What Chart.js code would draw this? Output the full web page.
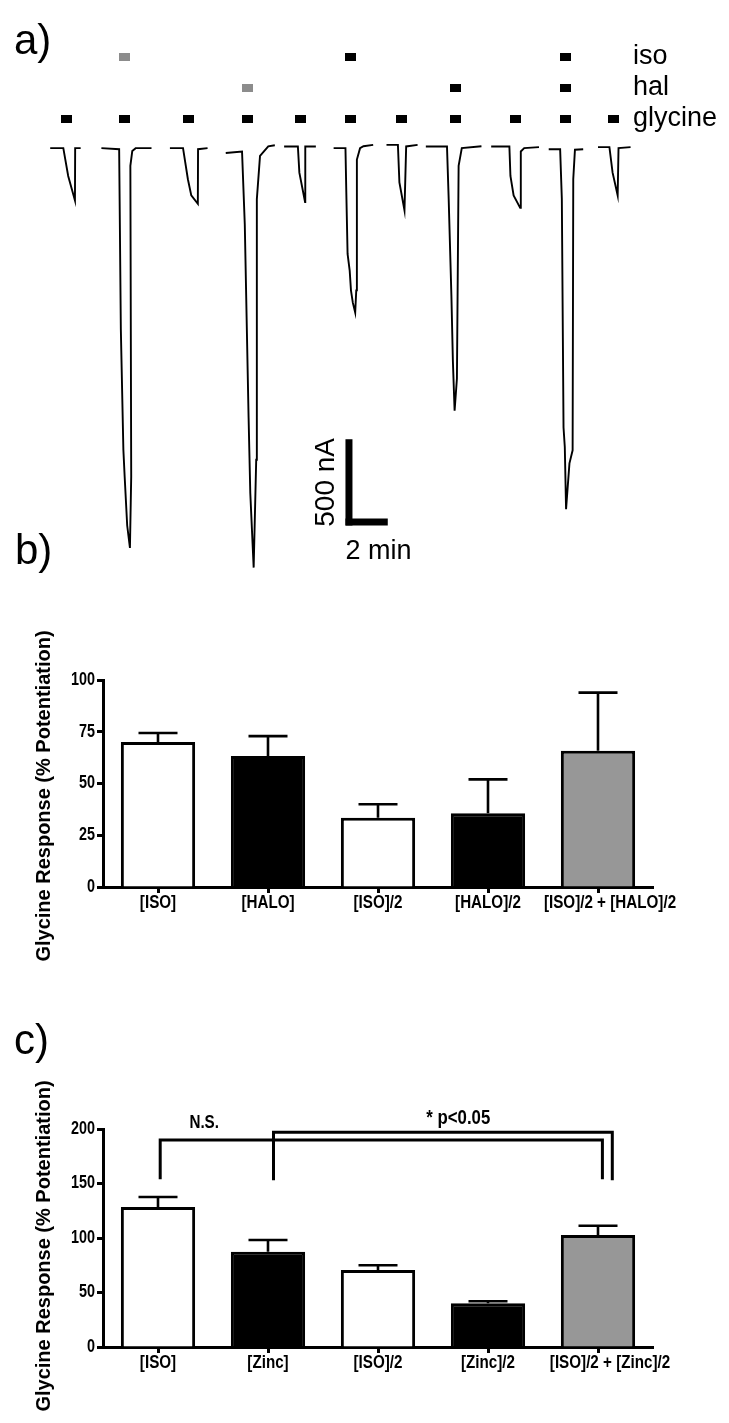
<!DOCTYPE html>
<html lang="en">
<head>
<meta charset="UTF-8">
<title>Glycine response potentiation</title>
<script src="https://cdn.jsdelivr.net/npm/chart.js@4.4.2/dist/chart.umd.min.js"></script>
<style>
  body { margin: 0; background: #fff; }
  #figure { position: relative; width: 729px; height: 1423px; }
  #figure canvas { position: absolute; left: 0; }
</style>
</head>
<body>
<div id="figure">
  <canvas id="traces" width="729" height="600" style="top:0px"></canvas>
  <canvas id="barsB" width="729" height="400" style="top:600px"></canvas>
  <canvas id="barsC" width="729" height="423" style="top:1000px"></canvas>
</div>

<script>
// ---- panel a: glycine-evoked currents (time in min, current in nA)
const sweepTimes = [
  [2.09, 2.71, 2.94, 3.26, 3.27, 3.53],
  [4.51, 5.35, 5.43, 5.55, 5.61, 5.73, 5.86, 5.92, 5.88, 5.97, 6.13, 6.88],
  [7.75, 8.37, 8.60, 8.76, 9.07, 9.08, 9.53],
  [10.39, 11.16, 11.29, 11.47, 11.55, 11.71, 11.83, 11.86, 12.01, 12.40, 12.71],
  [13.15, 13.80, 13.87, 14.14, 14.15, 14.65],
  [15.49, 16.05, 16.09, 16.15, 16.25, 16.31, 16.40, 16.51, 16.56, 16.59, 16.74, 16.90, 17.36],
  [17.99, 18.53, 18.60, 18.84, 18.92, 19.46],
  [19.85, 20.85, 20.93, 21.06, 21.13, 21.21, 21.32, 21.40, 21.55, 22.48],
  [22.94, 23.80, 23.85, 24.00, 24.31, 24.34, 24.50, 25.20],
  [25.66, 26.20, 26.28, 26.36, 26.42, 26.48, 26.64, 26.79, 26.82, 26.90, 27.29],
  [27.99, 28.53, 28.68, 28.92, 28.96, 29.53]
];
const sweepCurrents = [
  [0, 0, -161, -303, 0, 0],
  [0, -6, -1051, -1749, -1903, -2187, -2317, -1903, -102, -17, 0, 0],
  [0, 0, -180, -274, -322, -6, 0],
  [-28, -19, -443, -1562, -1999, -2431, -1806, -295, -45, 11, 17],
  [10, 10, -142, -312, 10, 10],
  [0, 0, -256, -613, -710, -824, -897, -953, -824, -66, 0, 11, 19],
  [19, 19, -199, -360, 10, 19],
  [10, 10, -294, -862, -1238, -1522, -1335, -102, 0, 11],
  [10, 10, -161, -274, -346, -19, 0, 6],
  [-6, -6, -294, -1619, -1732, -2092, -1827, -1751, -180, -9, -6],
  [6, 6, -142, -274, 0, 6]
];
// application bars above the sweeps
const glycineTimes = [2.88, 5.58, 8.65, 11.44, 13.91, 16.28, 18.70, 21.26, 24.09, 26.47, 28.74];
const isoTimes = [5.58, 16.28, 26.47];
const isoShade = ['#8c8c8c', '#000000', '#000000'];
const halTimes = [11.44, 21.26, 26.47];
const halShade = ['#8c8c8c', '#000000', '#000000'];
const rowNames = ['glycine', 'hal', 'iso'];
const scaleBarCurrent = 500; // nA
const scaleBarTime = 2;      // min

// ---- panel b
const categoriesB = ['[ISO]', '[HALO]', '[ISO]/2', '[HALO]/2', '[ISO]/2 + [HALO]/2'];
const meansB = [70, 63.3, 33.5, 35.6, 65.8];
const semB = [4.4, 9.6, 6.5, 16.4, 28.1];
const ticksB = [0, 25, 50, 75, 100];

// ---- panel c
const categoriesC = ['[ISO]', '[Zinc]', '[ISO]/2', '[Zinc]/2', '[ISO]/2 + [Zinc]/2'];
const meansC = [128.4, 87.3, 70.6, 40.2, 102.8];
const semC = [9.2, 10.9, 4.4, 1.8, 8.5];
const ticksC = [0, 50, 100, 150, 200];
const bracketText = ['N.S.', '* p<0.05'];
const bracketFrom = [0.02, 1.05];
const bracketTo = [4.04, 4.13];
const bracketTop = [190, 197];
const bracketFoot = [154, 153];

const barFills = ['#ffffff', '#000000', '#ffffff', '#000000', '#979797'];

const plainFont = "'Liberation Sans', Arial, sans-serif";

// condensed bold text (the original uses a narrow face that is not installed)
function narrowText(ctx, text, x, y, size, align) {
    ctx.save();
    ctx.font = 'bold ' + size + 'px ' + plainFont;
    ctx.textAlign = align;
    ctx.textBaseline = 'middle';
    ctx.translate(x, y);
    ctx.scale(0.8, 1);
    ctx.fillText(text, 0, 0);
    ctx.restore();
}

// small filled rectangle used as point style for the application markers
function markerStyle(color) {
    const c = document.createElement('canvas');
    c.width = 11;
    c.height = 8;
    const g = c.getContext('2d');
    g.fillStyle = color;
    g.fillRect(0, 0, 11, 8);
    return c;
}

// free text drawn on top of a chart (panel letters, rotated titles)
const panelText = {
    id: 'panelText',
    afterDraw(chart, args, opts) {
        const ctx = chart.ctx;
        (opts.items || []).forEach(t => {
            ctx.save();
            ctx.fillStyle = '#000';
            ctx.font = t.font;
            ctx.textAlign = t.align || 'left';
            ctx.textBaseline = t.baseline || 'alphabetic';
            ctx.translate(t.x, t.y);
            if (t.rotate) ctx.rotate(t.rotate);
            ctx.fillText(t.text, 0, 0);
            ctx.restore();
        });
    }
};

// trace decorations: row names and the L-shaped scale bar
const traceDecor = {
    id: 'traceDecor',
    afterDraw(chart) {
        const ctx = chart.ctx;
        const xs = chart.scales.x, ys = chart.scales.y, rs = chart.scales.yRow;
        ctx.save();
        ctx.fillStyle = '#000';
        ctx.font = '27px ' + plainFont;
        ctx.textBaseline = 'middle';
        rowNames.forEach((name, i) => {
            ctx.fillText(name, 633, rs.getPixelForValue(i + 1));
        });
        // scale bar
        const x0 = xs.getPixelForValue(16.05);
        const x1 = xs.getPixelForValue(16.05 + scaleBarTime);
        const yb = ys.getPixelForValue(-2187);
        const yt = ys.getPixelForValue(-2187 + scaleBarCurrent);
        ctx.fillRect(x0, yt, 7, yb - yt);
        ctx.fillRect(x0, yb - 7, x1 - x0, 7);
        ctx.font = '27px ' + plainFont;
        ctx.fillText(scaleBarTime + ' min', x0, 552);
        ctx.save();
        ctx.translate(326, (yt + yb) / 2);
        ctx.rotate(-Math.PI / 2);
        ctx.textAlign = 'center';
        ctx.font = '28px ' + plainFont;
        ctx.fillText(scaleBarCurrent + ' nA', 0, 0);
        ctx.restore();
        ctx.restore();
    }
};

const sweepSets = sweepTimes.map((times, k) => ({
    data: times.map((t, j) => ({x: t, y: sweepCurrents[k][j]})),
    showLine: true,
    borderColor: '#000',
    borderWidth: 1.9,
    pointRadius: 0,
    tension: 0
}));

new Chart(document.getElementById('traces'), {
    type: 'scatter',
    data: {
        datasets: sweepSets.concat([
            {yAxisID: 'yRow', data: glycineTimes.map(t => ({x: t, y: 1})),
             pointStyle: markerStyle('#000'), pointRadius: 5},
            {yAxisID: 'yRow', data: halTimes.map(t => ({x: t, y: 2})),
             pointStyle: halShade.map(c => markerStyle(c)), pointRadius: 5},
            {yAxisID: 'yRow', data: isoTimes.map(t => ({x: t, y: 3})),
             pointStyle: isoShade.map(c => markerStyle(c)), pointRadius: 5}
        ])
    },
    options: {
        responsive: false,
        animation: false,
        layout: {padding: 0},
        plugins: {
            legend: {display: false},
            tooltip: {enabled: false},
            panelText: {items: [
                {text: 'a)', x: 14, y: 54, font: '42px ' + plainFont},
                {text: 'b)', x: 15, y: 564, font: '42px ' + plainFont}
            ]}
        },
        scales: {
            x: {type: 'linear', display: false, min: 0, max: 33.9},
            y: {type: 'linear', display: false, min: -2584, max: 824},
            yRow: {type: 'linear', axis: 'y', display: false, min: -14.4, max: 4.65}
        }
    },
    plugins: [traceDecor, panelText]
});

// upper SEM whiskers
const errorBars = {
    id: 'errorBars',
    afterDatasetsDraw(chart, args, opts) {
        const ctx = chart.ctx;
        const ys = chart.scales.y;
        const meta = chart.getDatasetMeta(0);
        ctx.save();
        ctx.strokeStyle = '#000';
        ctx.lineWidth = 2.6;
        meta.data.forEach((bar, i) => {
            const base = ys.getPixelForValue(opts.means[i]);
            const top = ys.getPixelForValue(opts.means[i] + opts.sem[i]);
            ctx.beginPath();
            ctx.moveTo(bar.x, base);
            ctx.lineTo(bar.x, top);
            ctx.moveTo(bar.x - 19.5, top);
            ctx.lineTo(bar.x + 19.5, top);
            ctx.stroke();
        });
        ctx.restore();
    }
};

// tick labels in the narrow bold face
const axisLabels = {
    id: 'axisLabels',
    afterDraw(chart, args, opts) {
        const ctx = chart.ctx;
        const xs = chart.scales.x, ys = chart.scales.y;
        ctx.save();
        ctx.fillStyle = '#000';
        chart.data.labels.forEach((lab, i) => {
            // the long combined label sits a little right of its tick in the original
            const shift = lab.length > 12 ? 12 : 0;
            narrowText(ctx, lab, xs.getPixelForTick(i) + shift, chart.chartArea.bottom + 16, 19, 'center');
        });
        opts.values.forEach(v => {
            narrowText(ctx, String(v), 95, ys.getPixelForValue(v), 18, 'right');
        });
        ctx.restore();
    }
};

// significance brackets for panel c
const brackets = {
    id: 'brackets',
    afterDraw(chart) {
        const ctx = chart.ctx;
        const xs = chart.scales.x, ys = chart.scales.y;
        ctx.save();
        ctx.strokeStyle = '#000';
        ctx.lineWidth = 3;
        ctx.lineJoin = 'miter';
        bracketText.forEach((txt, i) => {
            const xa = xs.getPixelForValue(bracketFrom[i]);
            const xb = xs.getPixelForValue(bracketTo[i]);
            const yt = ys.getPixelForValue(bracketTop[i]);
            const yf = ys.getPixelForValue(bracketFoot[i]);
            ctx.beginPath();
            ctx.moveTo(xa, yf);
            ctx.lineTo(xa, yt);
            ctx.lineTo(xb, yt);
            ctx.lineTo(xb, yf);
            ctx.stroke();
        });
        ctx.fillStyle = '#000';
        narrowText(ctx, bracketText[0], xs.getPixelForValue(0.42), ys.getPixelForValue(205.5), 19, 'center');
        narrowText(ctx, bracketText[1], xs.getPixelForValue(2.73), ys.getPixelForValue(210), 21, 'center');
        ctx.restore();
    }
};

function barPanel(id, labels, means, sem, tickValues, yMax, padTop, axisHeight, titleY, letter, extra) {
    return new Chart(document.getElementById(id), {
        type: 'bar',
        data: {
            labels: labels,
            datasets: [{
                data: means,
                backgroundColor: barFills,
                borderColor: '#000',
                borderWidth: 3,
                borderSkipped: 'bottom',
                barPercentage: 0.675,
                categoryPercentage: 1
            }]
        },
        options: {
            responsive: false,
            animation: false,
            layout: {padding: {top: padTop, right: 76, bottom: 0, left: 0}},
            plugins: {
                legend: {display: false},
                tooltip: {enabled: false},
                errorBars: {means: means, sem: sem},
                axisLabels: {values: tickValues},
                panelText: {items: [
                    {text: 'Glycine Response (% Potentiation)', x: 44, y: titleY,
                     rotate: -Math.PI / 2, align: 'center', baseline: 'middle',
                     font: 'bold 20px ' + plainFont}
                ].concat(letter ? [letter] : [])}
            },
            scales: {
                x: {
                    offset: true,
                    afterFit: s => { s.height = axisHeight; },
                    border: {color: '#000', width: 3},
                    grid: {offset: false, drawOnChartArea: false, tickLength: 6, tickWidth: 3, tickColor: '#000'},
                    ticks: {display: false, autoSkip: false}
                },
                y: {
                    min: 0,
                    max: yMax,
                    afterBuildTicks: s => { s.ticks = tickValues.map(v => ({value: v})); },
                    afterFit: s => { s.width = 103; },
                    border: {color: '#000', width: 3},
                    grid: {drawOnChartArea: false, tickLength: 6, tickWidth: 3, tickColor: '#000'},
                    ticks: {display: false}
                }
            }
        },
        plugins: [errorBars, axisLabels, panelText].concat(extra)
    });
}

barPanel('barsB', categoriesB, meansB, semB, ticksB, 100, 80, 113, 196, null, []);
barPanel('barsC', categoriesC, meansC, semC, ticksC, 200, 129, 76, 246,
         {text: 'c)', x: 14, y: 54, font: '42px ' + plainFont}, [brackets]);
</script>
</body>
</html>
